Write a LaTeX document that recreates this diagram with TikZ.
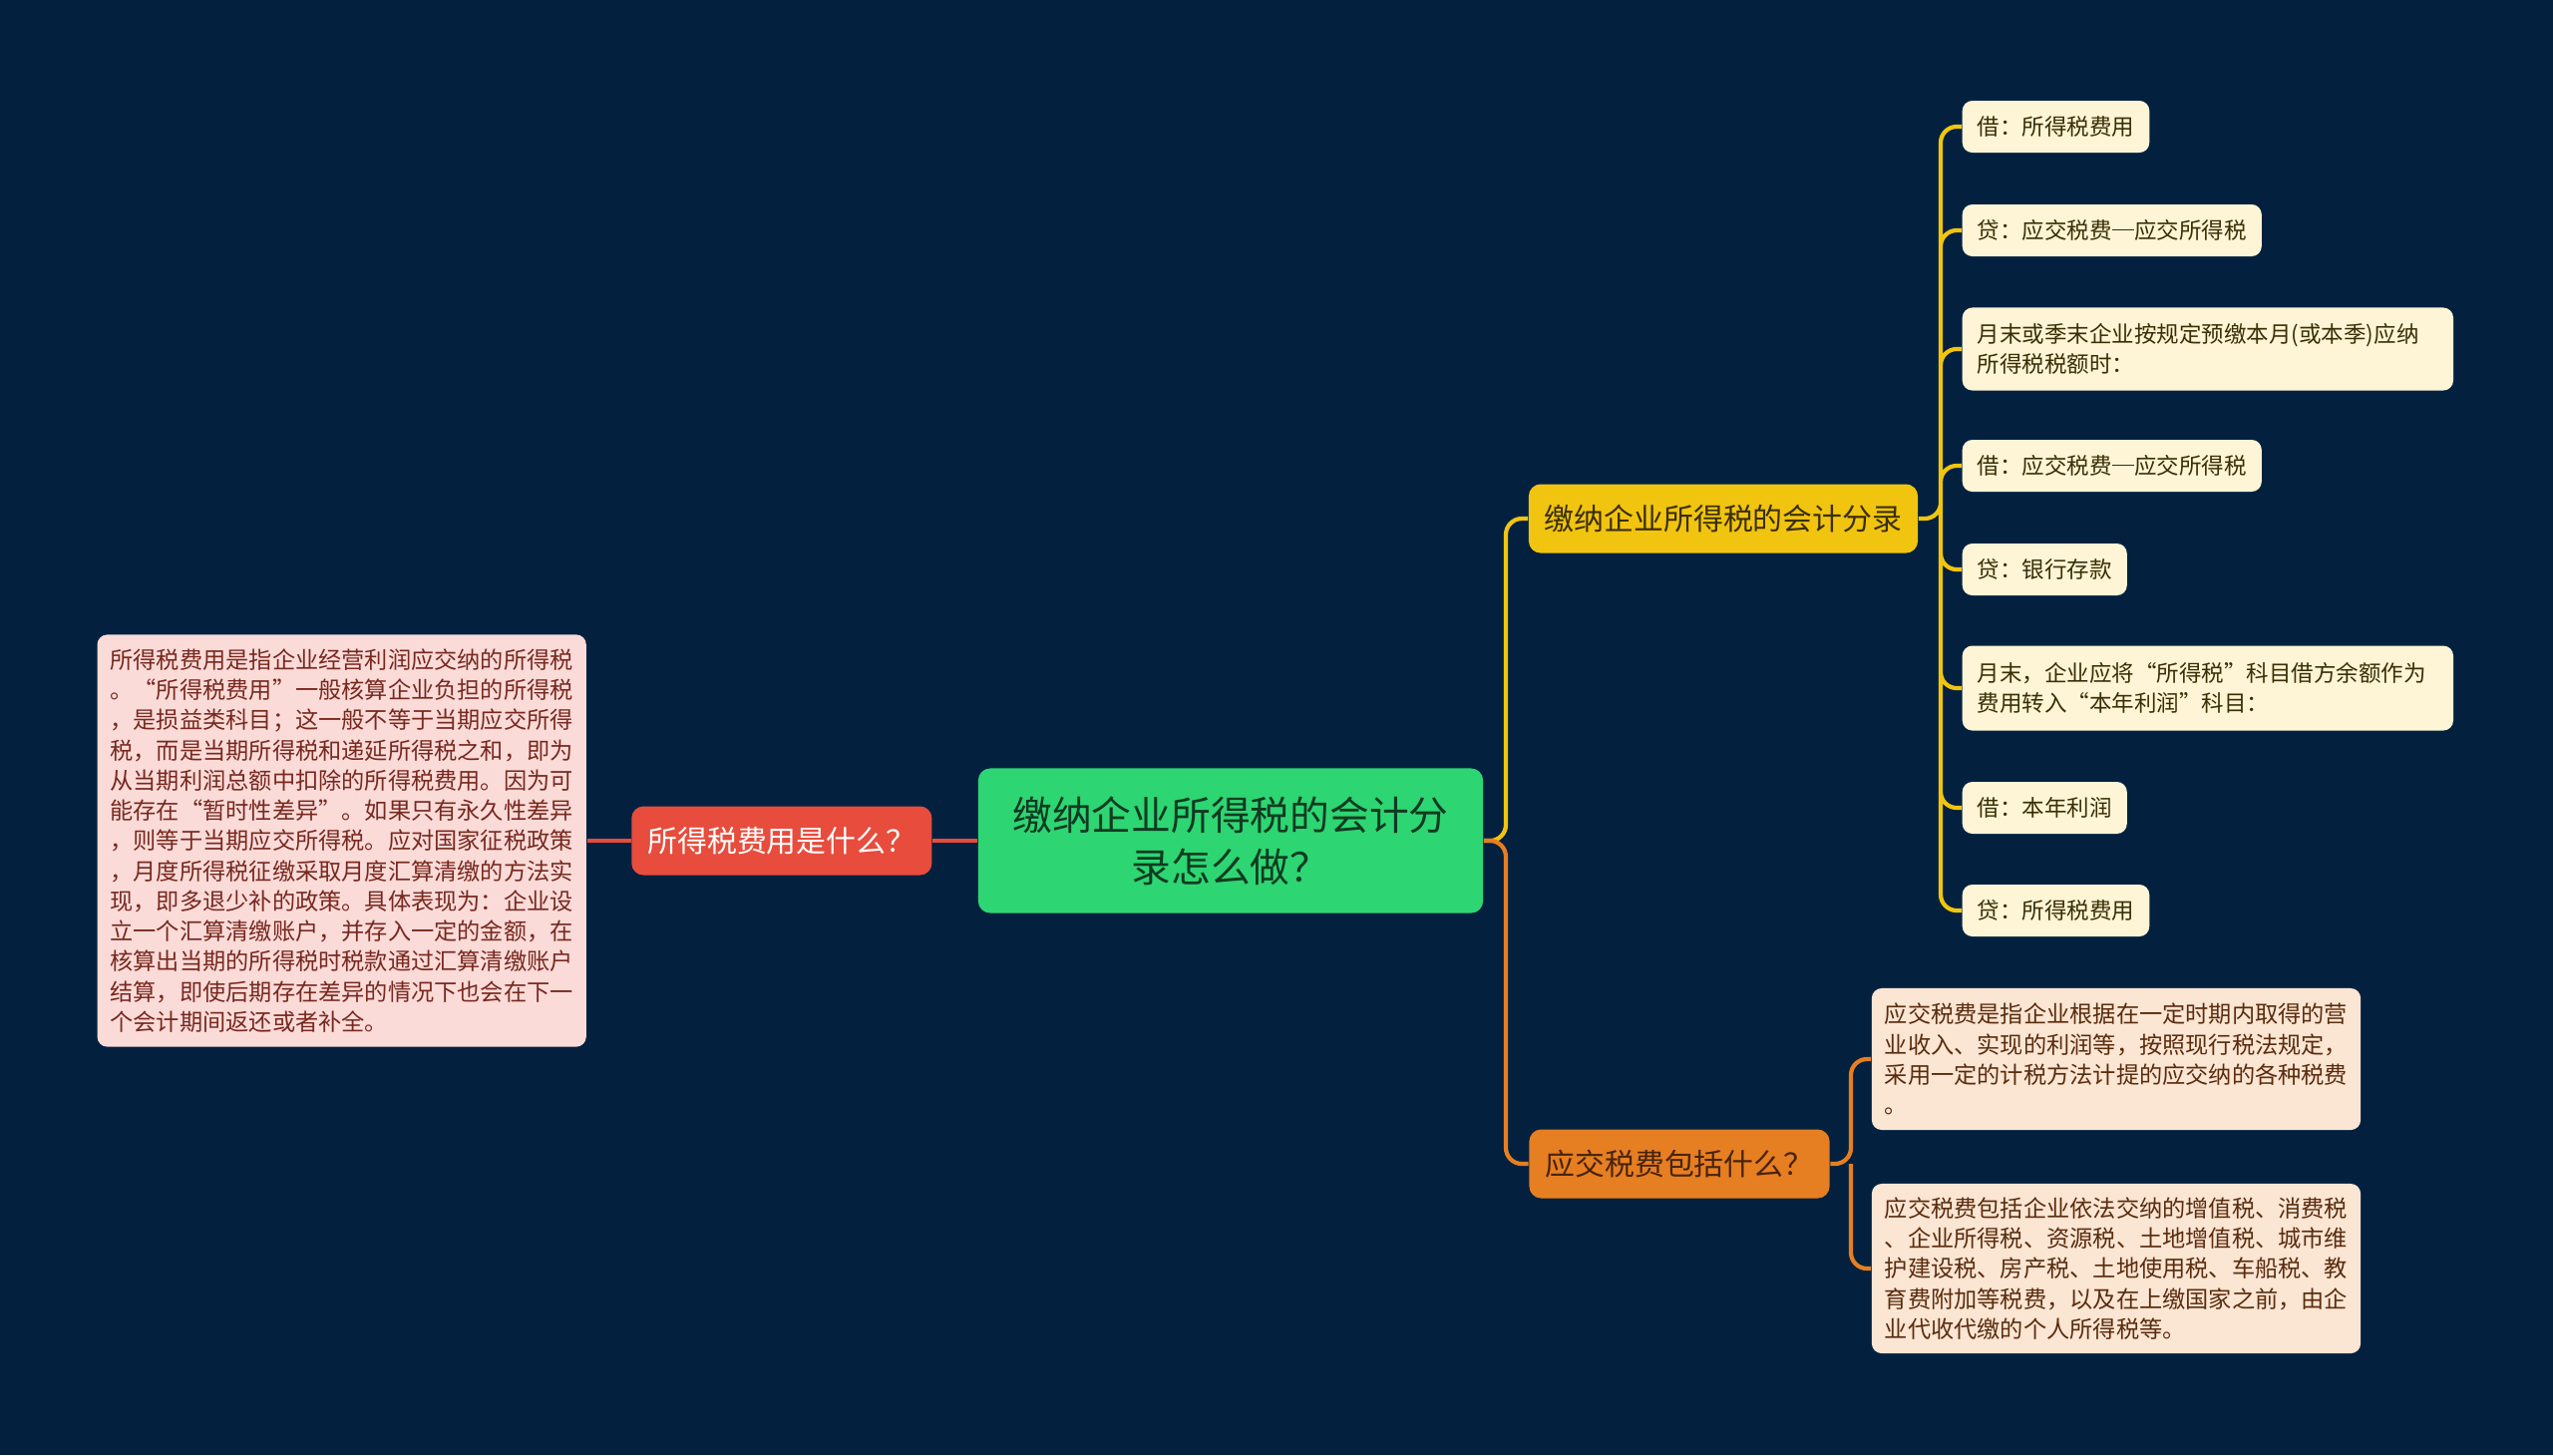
\documentclass[tikz,border=0pt]{standalone}
\usepackage{fontspec}
\setmainfont{Noto Sans CJK SC}
\usepackage{xcolor}
\definecolor{bgNavy}{HTML}{03213F}
\definecolor{rootGreen}{HTML}{2ED573}
\definecolor{rootText}{HTML}{0E3B20}
\definecolor{qRed}{HTML}{E74C3C}
\definecolor{qYellow}{HTML}{F1C40F}
\definecolor{qOrange}{HTML}{E67E22}
\definecolor{leafCream}{HTML}{FDF5D6}
\definecolor{leafText}{HTML}{3A2E05}
\definecolor{notePink}{HTML}{FADBD8}
\definecolor{noteRed}{HTML}{78281F}
\definecolor{notePeach}{HTML}{FBE5D3}
\definecolor{noteBrown}{HTML}{5A2C0E}
\usepackage{tikz}
\usetikzlibrary{positioning, calc}
\newcommand{\cdash}{\makebox[1em][c]{\rule[0.36em]{0.96em}{0.055em}}}

\begin{document}
\begin{tikzpicture}[x=0.01cm, y=-0.01cm,
  box/.style={rounded corners=0.12cm, inner sep=0pt, align=center},
  rootbox/.style={box, fill=rootGreen, text=rootText, minimum width=5.06cm, minimum height=1.45cm, font=\fontsize{11.3pt}{14.8pt}\selectfont},
  branch/.style={box, minimum height=0.69cm, font=\fontsize{8.5pt}{10pt}\selectfont},
  leaf/.style={box, rounded corners=0.1cm, anchor=west, fill=leafCream, text=leafText, align=left, inner xsep=0.15cm, minimum height=0.52cm, font=\fontsize{6.4pt}{8.4pt}\selectfont},
  note/.style={box, rounded corners=0.1cm, align=left, minimum width=4.9cm, font=\fontsize{6.6pt}{8.6pt}\selectfont},
  link/.style={line width=1.2pt, rounded corners=0.16cm},
]
  \fill[bgNavy] (0,0) rectangle (2560,1459);
  \useasboundingbox (0,0) rectangle (2560,1459);

  % centre and left side
  \node[rootbox] (root) at (1234,843) {缴纳企业所得税的会计分\\录怎么做？};
  \node[branch, fill=qRed, text=white, minimum width=3.01cm, left=0.45cm of root] (rq) {所得税费用是什么？};
  \node[note, fill=notePink, text=noteRed, minimum height=4.13cm, left=0.44cm of rq] (rnote) {所得税费用是指企业经营利润应交纳的所得税\\。“所得税费用”一般核算企业负担的所得税\\，是损益类科目；这一般不等于当期应交所得\\税，而是当期所得税和递延所得税之和，即为\\从当期利润总额中扣除的所得税费用。因为可\\能存在“暂时性差异”。如果只有永久性差异\\，则等于当期应交所得税。应对国家征税政策\\，月度所得税征缴采取月度汇算清缴的方法实\\现，即多退少补的政策。具体表现为：企业设\\立一个汇算清缴账户，并存入一定的金额，在\\核算出当期的所得税时税款通过汇算清缴账户\\结算，即使后期存在差异的情况下也会在下一\\个会计期间返还或者补全。};

  % right side branches
  \node[branch, fill=qYellow, text=leafText, minimum width=3.9cm] (yb) at (1728,520) {缴纳企业所得税的会计分录};
  \node[branch, fill=qOrange, text=noteBrown!80!black, minimum width=3.01cm] (ob) at (1684,1167) {应交税费包括什么？};

  \node[leaf] (l1) at (1967,127) {借：所得税费用};
  \node[leaf] (l2) at (1967,231) {贷：应交税费\cdash 应交所得税};
  \node[leaf, minimum height=0.83cm, text width=4.62cm] (l3) at (1967,350) {月末或季末企业按规定预缴本月(或本季)应纳\\所得税税额时：};
  \node[leaf] (l4) at (1967,467) {借：应交税费\cdash 应交所得税};
  \node[leaf] (l5) at (1967,571) {贷：银行存款};
  \node[leaf, minimum height=0.85cm, text width=4.62cm] (l6) at (1967,690) {月末，企业应将“所得税”科目借方余额作为\\费用转入“本年利润”科目：};
  \node[leaf] (l7) at (1967,810) {借：本年利润};
  \node[leaf] (l8) at (1967,913) {贷：所得税费用};

  \node[note, fill=notePeach, text=noteBrown, minimum height=1.42cm] (oa) at (2122,1062) {应交税费是指企业根据在一定时期内取得的营\\业收入、实现的利润等，按照现行税法规定，\\采用一定的计税方法计提的应交纳的各种税费\\。};
  \node[note, fill=notePeach, text=noteBrown, minimum height=1.7cm] (obb) at (2122,1272) {应交税费包括企业依法交纳的增值税、消费税\\、企业所得税、资源税、土地增值税、城市维\\护建设税、房产税、土地使用税、车船税、教\\育费附加等税费，以及在上缴国家之前，由企\\业代收代缴的个人所得税等。};

  \coordinate (sp) at (1510,843);
  \coordinate (ys) at (1946,520);
  \coordinate (os) at (1856,1167);

  % connectors
  \draw[link, qRed] (root.west) -- (rq.east);
  \draw[link, qRed] (rq.west) -- (rnote.east);
  \draw[link, qYellow] (root.east) -- (sp) |- (yb.west);
  \draw[link, qOrange] (root.east) -- (sp) |- (ob.west);
  \draw[link, qYellow] (yb.east) -- (ys) |- (l1.west) (ys) |- (l2.west) (ys) |- (l3.west) (ys) |- (l4.west)
    (ys) |- (l5.west) (ys) |- (l6.west) (ys) |- (l7.west) (ys) |- (l8.west);
  \draw[link, qOrange] (ob.east) -- (os) |- (oa.west) (os) |- (obb.west);
\end{tikzpicture}
\end{document}
